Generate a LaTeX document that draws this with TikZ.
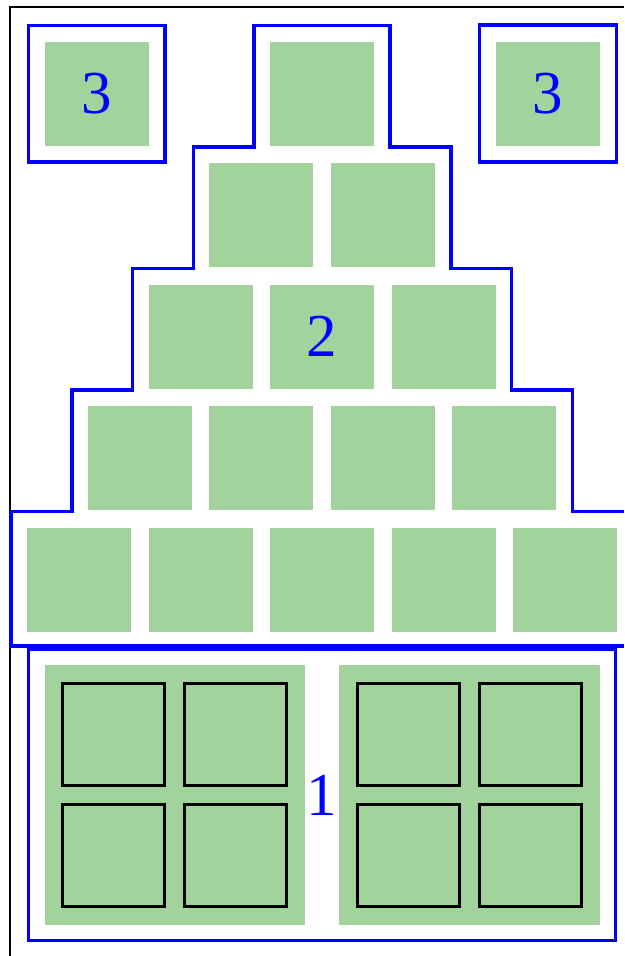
\documentclass[tikz,border=0pt]{standalone}
\usepackage{fontspec}
\setmainfont{Liberation Serif}
\definecolor{leaf}{RGB}{163,211,157}
\begin{document}
\begin{tikzpicture}[x=1pt,y=-1pt,
  cell/.style={fill=leaf,draw=none,minimum size=104pt,inner sep=0pt,outer sep=0pt,text=blue,font=\fontsize{61}{61}\selectfont},
  block/.style={fill=leaf,draw=none,minimum width=260.5pt,minimum height=260pt,inner sep=0pt},
  sq/.style={draw=black,line width=3pt,minimum size=102pt,inner sep=0pt},
  bluebox/.style={draw=blue,line width=3.5pt,inner sep=0pt,text=blue,font=\fontsize{61}{61}\selectfont},
  outline/.style={draw=blue,line width=3.5pt,line join=miter}]
\useasboundingbox (0,0) rectangle (624,956);
% outer black frame (cropped at the right and bottom)
\draw[black,line width=2pt] (624,7) -- (10,7) -- (10,956);
% pyramid outline (its right end runs off the picture)
\draw[outline] (624,646) -- (11,646) -- (11,511.5) -- (71.75,511.5) -- (71.75,390)
  -- (132.5,390) -- (132.5,268.5) -- (193.25,268.5) -- (193.25,147) -- (254,147)
  -- (254,25.5) -- (390,25.5) -- (390,147) -- (450.75,147) -- (450.75,268.5)
  -- (511.5,268.5) -- (511.5,390) -- (572.25,390) -- (572.25,511.5) -- (624,511.5);
% pyramid cells
\foreach \r/\y/\n in {1/93.5/1, 2/215/2, 3/336.5/3, 4/458/4, 5/579.5/5} {
  \foreach \c in {1,...,\n} {
    \node[cell] (r\r c\c) at ({322 + (\c - (\n+1)/2)*121.5}, \y) {};
  }
}
\node[text=blue,font=\fontsize{61}{61}\selectfont,inner sep=0pt] (lbl2) at (r3c2) {2};
% corner boxes "3"
\node[bluebox,minimum size=136.5pt] (o3l) at (96.5,93.5) {};
\node[cell] (g3l) at (o3l) {3};
\node[bluebox,minimum size=137pt] (o3r) at (548,93.5) {};
\node[cell] (g3r) at (o3r) {3};
% box 1
\node[bluebox,minimum width=587pt,minimum height=291pt] (box1) at (322,795) {1};
\node[block] (bl) at (174.75,795) {};
\node[block] (br) at (469.25,795) {};
\foreach \x/\nm in {113.75/a,235.75/b,408.25/c,530.25/d} {
  \node[sq] (s\nm1) at (\x,734.25) {};
  \node[sq] (s\nm2) at (\x,855.75) {};
}
\end{tikzpicture}
\end{document}
